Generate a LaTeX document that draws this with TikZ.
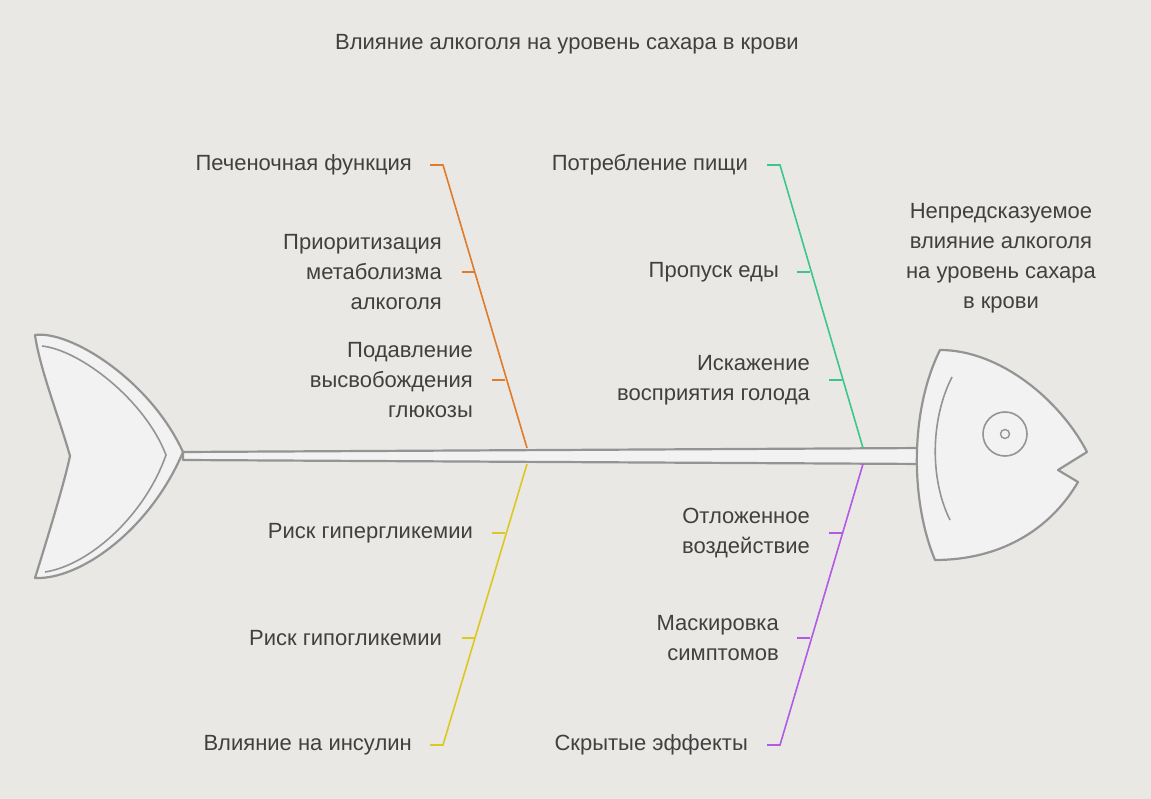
\documentclass[tikz,border=0pt]{standalone}
\usepackage{fontspec}
\setmainfont{Liberation Sans}
\begin{document}
\begin{tikzpicture}[x=1pt,y=-1pt,
 lbl/.style={font=\fontsize{22}{30}\selectfont,text=black!75,align=right,anchor=east,inner sep=0},
 fish/.style={draw=black!42,line width=2.2pt,fill=black!5,line join=round},
 bone/.style={line width=1.6pt}]
\useasboundingbox (0,0) rectangle (1151,799);
\definecolor{bgc}{HTML}{EAE8E5}
\fill[bgc] (0,0) rectangle (1151,799);
\definecolor{oc}{HTML}{E07B2A}\definecolor{gc}{HTML}{3CC78A}
\definecolor{yc}{HTML}{DCC81E}\definecolor{pc}{HTML}{B25AE6}
% tail
\draw[fish] (35,335) .. controls (70,330) and (150,380) .. (183,452) .. controls (150,530) and (80,580) .. (35,578) .. controls (50,530) and (65,480) .. (70,456) .. controls (60,420) and (40,370) .. (35,335) -- cycle;
\draw[draw=black!42,line width=1.6pt] (42,346) .. controls (80,350) and (145,400) .. (166,455) .. controls (145,515) and (90,565) .. (45,572);
% spine
\draw[fish] (183,452) -- (925,448) -- (925,464) -- (183,460) -- cycle;
% head
\draw[fish] (940,350) .. controls (1000,350) and (1060,400) .. (1087,452) -- (1058,470) -- (1078,482) .. controls (1050,530) and (1000,560) .. (935,560) .. controls (910,500) and (910,410) .. (940,350) -- cycle;
\draw[draw=black!42,line width=1.6pt] (952,377) .. controls (930,420) and (930,480) .. (950,520);
\node[circle,draw=black!42,line width=1.6pt,minimum size=44pt,inner sep=0] (eye) at (1005,434) {};
\node[circle,draw=black!42,line width=1.4pt,minimum size=9pt,inner sep=0] (pupil) at (1005,434) {};
% bones
\coordinate (o0) at (527,448); \coordinate (o1) at (443,165);
\coordinate (g0) at (863,448); \coordinate (g1) at (780,165);
\coordinate (y0) at (527,464); \coordinate (y1) at (443,745);
\coordinate (p0) at (863,464); \coordinate (p1) at (780,745);
\draw[bone,oc] (o0)--(o1)--++(-13,0);
\draw[bone,gc] (g0)--(g1)--++(-13,0);
\draw[bone,yc] (y0)--(y1)--++(-13,0);
\draw[bone,pc] (p0)--(p1)--++(-13,0);
\draw[bone,oc] (462,272)--++(13,0) (492,380)--++(13,0);
\draw[bone,gc] (797,272)--++(13,0) (829,380)--++(13,0);
\draw[bone,yc] (492,533)--++(13,0) (462,638)--++(13,0);
\draw[bone,pc] (829,533)--++(13,0) (797,638)--++(13,0);
% texts
\node[lbl,anchor=center] (title) at (567,44) {Влияние алкоголя на уровень сахара в крови};
\node[lbl,anchor=center,align=center] (res) at (1001,258) {Непредсказуемое\\влияние алкоголя\\на уровень сахара\\в крови};
\node[lbl] (t1) at (412,165) {Печеночная функция};
\node[lbl] (t2) at (442,272) {Приоритизация\\метаболизма\\алкоголя};
\node[lbl] (t3) at (473,380) {Подавление\\высвобождения\\глюкозы};
\node[lbl] (t4) at (748,165) {Потребление пищи};
\node[lbl] (t5) at (779,272) {Пропуск еды};
\node[lbl] (t6) at (810,380) {Искажение\\восприятия голода};
\node[lbl] (t7) at (473,533) {Риск гипергликемии};
\node[lbl] (t8) at (442,638) {Риск гипогликемии};
\node[lbl] (t9) at (412,745) {Влияние на инсулин};
\node[lbl] (t10) at (810,533) {Отложенное\\воздействие};
\node[lbl] (t11) at (779,638) {Маскировка\\симптомов};
\node[lbl] (t12) at (748,745) {Скрытые эффекты};
\end{tikzpicture}
\end{document}
